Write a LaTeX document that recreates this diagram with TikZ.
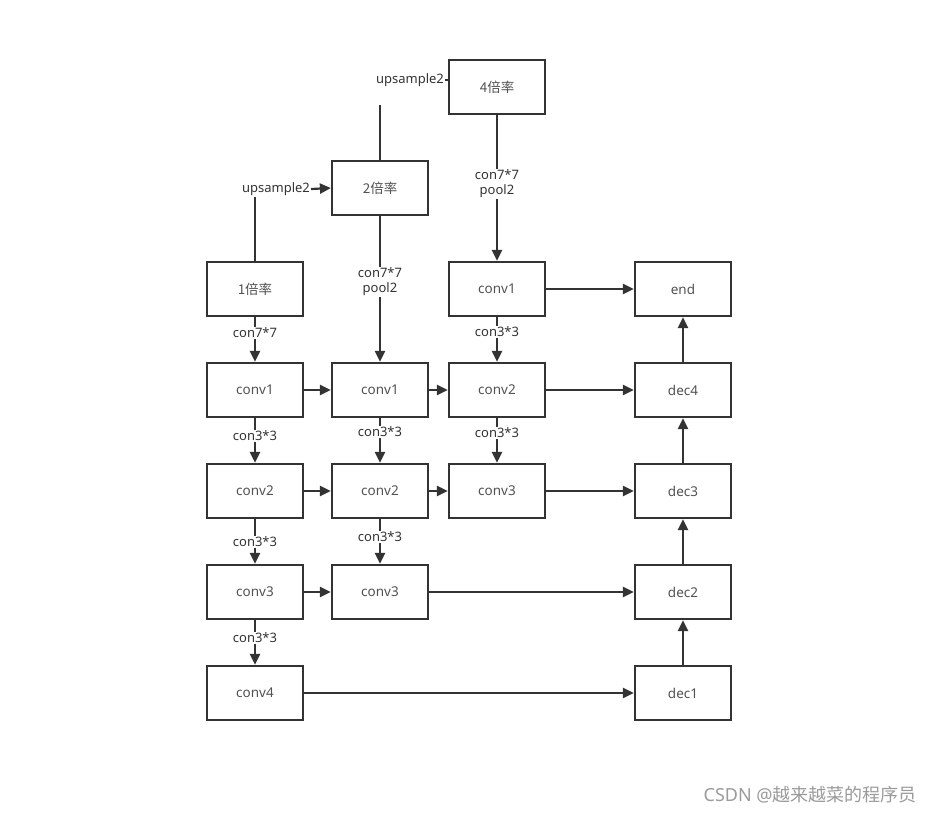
\documentclass[tikz,border=0pt]{standalone}
\usepackage{fontspec}
\setmainfont{Noto Sans}
\newfontfamily\cjk{Noto Sans CJK SC}
\usetikzlibrary{arrows.meta,positioning}
\definecolor{ink}{HTML}{333333}
\definecolor{mark}{HTML}{9A9A9A}

\begin{document}
\begin{tikzpicture}[x=1pt,y=-1pt,line width=2.2pt,draw=ink,text=ink,
	font=\fontsize{13}{15}\selectfont,
	lbl/.style={fill=white,inner sep=1pt,align=center,text=ink}]
\useasboundingbox (0,0) rectangle (937,814);
\begin{scope}[every node/.style={rectangle,draw=ink,line width=2.2pt,minimum width=96pt,minimum height=54pt,text=ink!85,font=\fontsize{13.5}{15}\selectfont}]
	\node (four) at (497,87) {\cjk 4倍率};
	\node (two) at (380,188) {\cjk 2倍率};
	\node (one) at (255,289) {\cjk 1倍率};

	\node (aconv1) at (255,390) {conv1};
	\node (aconv2) at (255,491) {conv2};
	\node (aconv3) at (255,592) {conv3};
	\node (aconv4) at (255,693) {conv4};

	\node (bconv1) at (380,390) {conv1};
	\node (bconv2) at (380,491) {conv2};
	\node (bconv3) at (380,592) {conv3};

	\node (cconv1) at (497,289) {conv1};
	\node (cconv2) at (497,390) {conv2};
	\node (cconv3) at (497,491) {conv3};

	\node (End) at (683,289) {end};
	\node (dec4) at (683,390) {dec4};
	\node (dec3) at (683,491) {dec3};
	\node (dec2) at (683,592) {dec2};
	\node (dec1) at (683,693) {dec1};
\end{scope}

\node[inner sep=0pt] (ups1) at (276,189) {upsample2};
\node[inner sep=0pt] (ups2) at (410,80) {upsample2};
\coordinate (upend) at (380,105);
\node[anchor=east,text=mark,font=\fontsize{18}{20}\selectfont] (csdn) at (921,795) {CSDN @{\cjk 越来越菜的程序员}};

\begin{scope}[every edge/.style={draw=ink,line width=2.2pt,-{Triangle[length=11pt,width=10pt]}}]
	% upsampling branch
	\draw (one.north) -- (one.north |- ups1.south);
	\draw (ups1.east) edge (two.west);
	\draw (two.north) -- (upend);
	\draw (ups2.east) -- (ups2.east -| four.west);

	% downward convolutions
	\draw (one) edge node[lbl,pos=0.35] {con7*7} (aconv1);
	\draw (aconv1) edge node[lbl,pos=0.4] {con3*3} (aconv2);
	\draw (aconv2) edge node[lbl,pos=0.5] {con3*3} (aconv3);
	\draw (aconv3) edge node[lbl,pos=0.4] {con3*3} (aconv4);
	\draw (two) edge node[lbl,pos=0.45] {con7*7\\pool2} (bconv1);
	\draw (bconv1) edge node[lbl,pos=0.3] {con3*3} (bconv2);
	\draw (bconv2) edge node[lbl,pos=0.4] {con3*3} (bconv3);
	\draw (four) edge node[lbl,pos=0.47] {con7*7\\pool2} (cconv1);
	\draw (cconv1) edge node[lbl,pos=0.33] {con3*3} (cconv2);
	\draw (cconv2) edge node[lbl,pos=0.33] {con3*3} (cconv3);

	% across
	\draw (aconv1) edge (bconv1);
	\draw (bconv1) edge (cconv2);
	\draw (aconv2) edge (bconv2);
	\draw (bconv2) edge (cconv3);
	\draw (aconv3) edge (bconv3);
	\draw (cconv1) edge (End);
	\draw (cconv2) edge (dec4);
	\draw (cconv3) edge (dec3);
	\draw (bconv3) edge (dec2);
	\draw (aconv4) edge (dec1);

	% decoder
	\draw (dec1) edge (dec2);
	\draw (dec2) edge (dec3);
	\draw (dec3) edge (dec4);
	\draw (dec4) edge (End);
\end{scope}
\end{tikzpicture}
\end{document}
